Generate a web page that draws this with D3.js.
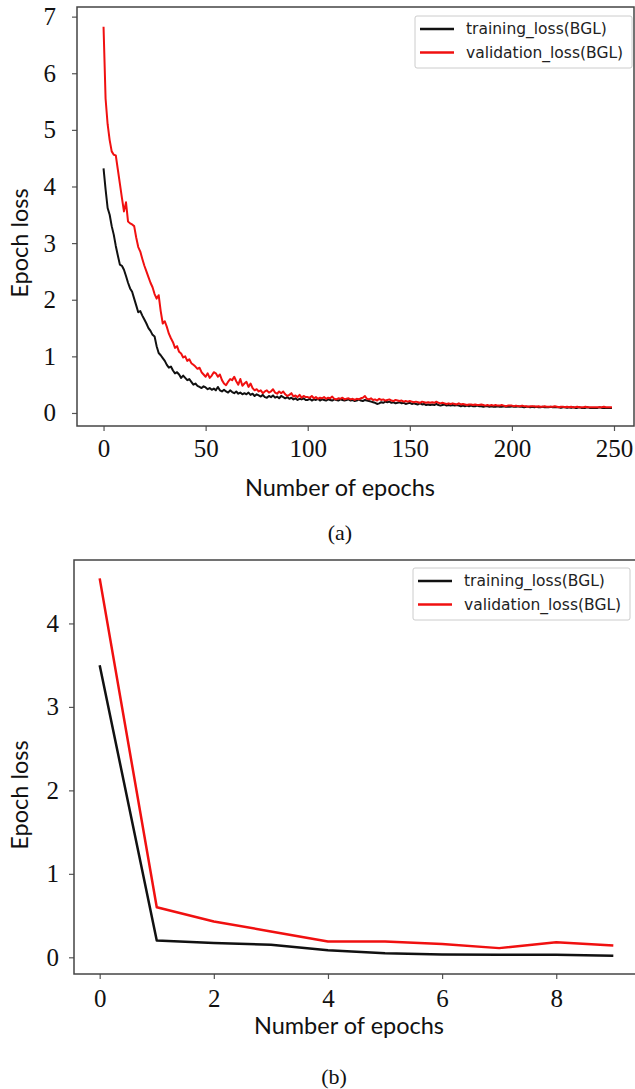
<!DOCTYPE html>
<html>
<head>
<meta charset="utf-8">
<script src="https://cdn.jsdelivr.net/npm/d3@7"></script>
<style>
  html, body { margin: 0; padding: 0; background: #fff; }
  svg { display: block; }
  .tick text { font-family: "Liberation Serif", "Times New Roman", serif; font-size: 25px; fill: #111; }
  .tick line { stroke: #555; stroke-width: 1.2; }
  .domain { display: none; }
  .frame { fill: none; stroke: #444; stroke-width: 1.5; }
  .label { font-family: Lato, "Open Sans", sans-serif; font-size: 23.5px; fill: #111; }
  .caption { font-family: "Liberation Serif", serif; font-size: 22px; fill: #111; }
  .legend text { font-family: "DejaVu Sans", sans-serif; font-size: 15.5px; fill: #222; }
  .legend rect { fill: #fff; stroke: #ccc; stroke-width: 1; }
  .loss { fill: none; stroke-linejoin: round; }
</style>
</head>
<body>
<svg id="chart" width="635" height="1089"></svg>
<script>
const seriesNames = ['training_loss(BGL)', 'validation_loss(BGL)'];
const seriesColors = ['#111111', '#f01010'];

// (a) 250 epochs
const trainA = [
  4.32, 3.95, 3.62, 3.50, 3.30, 3.15, 2.95, 2.78, 2.62, 2.60,
  2.53, 2.42, 2.30, 2.20, 2.14, 2.02, 1.90, 1.78, 1.80, 1.72,
  1.65, 1.58, 1.50, 1.45, 1.38, 1.35, 1.18, 1.06, 1.02, 0.97,
  0.92, 0.85, 0.80, 0.82, 0.75, 0.70, 0.72, 0.68, 0.62, 0.66,
  0.62, 0.58, 0.60, 0.55, 0.50, 0.52, 0.48, 0.46, 0.44, 0.47,
  0.45, 0.42, 0.44, 0.41, 0.43, 0.40, 0.46, 0.40, 0.38, 0.41,
  0.38, 0.36, 0.40, 0.37, 0.35, 0.38, 0.34, 0.36, 0.33, 0.35,
  0.33, 0.36, 0.32, 0.34, 0.30, 0.33, 0.31, 0.29, 0.32, 0.28,
  0.27, 0.30, 0.28, 0.31, 0.27, 0.29, 0.26, 0.30, 0.28, 0.26,
  0.28, 0.25, 0.27, 0.24, 0.26, 0.23, 0.25, 0.24, 0.26, 0.23,
  0.23, 0.25, 0.22, 0.24, 0.23, 0.25, 0.22, 0.24, 0.23, 0.22,
  0.24, 0.23, 0.22, 0.24, 0.23, 0.22, 0.24, 0.23, 0.22, 0.23,
  0.24, 0.22, 0.23, 0.21, 0.22, 0.24, 0.22, 0.21, 0.23, 0.22,
  0.21, 0.20, 0.19, 0.18, 0.16, 0.17, 0.19, 0.18, 0.20, 0.19,
  0.20, 0.18, 0.19, 0.17, 0.18, 0.19, 0.17, 0.18, 0.16, 0.17,
  0.18, 0.16, 0.17, 0.16, 0.15, 0.17, 0.15, 0.16, 0.14, 0.15,
  0.14, 0.15, 0.14, 0.16, 0.14, 0.13, 0.14, 0.15, 0.13, 0.14,
  0.13, 0.14, 0.13, 0.14, 0.13, 0.12, 0.13, 0.12, 0.13, 0.12,
  0.13, 0.12, 0.12, 0.13, 0.12, 0.12, 0.11, 0.12, 0.12, 0.11,
  0.12, 0.11, 0.11, 0.12, 0.11, 0.11, 0.12, 0.11, 0.11, 0.11,
  0.12, 0.11, 0.11, 0.12, 0.11, 0.11, 0.10, 0.11, 0.11, 0.10,
  0.11, 0.10, 0.11, 0.10, 0.10, 0.11, 0.10, 0.10, 0.10, 0.11,
  0.10, 0.10, 0.10, 0.10, 0.09, 0.10, 0.10, 0.09, 0.10, 0.09,
  0.10, 0.09, 0.09, 0.10, 0.09, 0.09, 0.09, 0.10, 0.09, 0.09,
  0.09, 0.09, 0.09, 0.10, 0.09, 0.09, 0.09, 0.09, 0.09, 0.09
];
const valA = [
  6.82, 5.55, 5.10, 4.82, 4.62, 4.56, 4.55, 4.30, 4.05, 3.80,
  3.56, 3.72, 3.38, 3.35, 3.33, 3.30, 3.10, 2.93, 2.85, 2.72,
  2.60, 2.50, 2.40, 2.30, 2.22, 2.10, 2.02, 2.08, 1.80, 1.58,
  1.62, 1.52, 1.40, 1.32, 1.25, 1.15, 1.18, 1.08, 1.05, 0.98,
  1.00, 0.92, 0.95, 0.88, 0.85, 0.82, 0.78, 0.80, 0.72, 0.68,
  0.64, 0.70, 0.62, 0.66, 0.72, 0.70, 0.64, 0.68, 0.58, 0.52,
  0.49, 0.55, 0.60, 0.58, 0.64, 0.56, 0.50, 0.60, 0.48, 0.52,
  0.55, 0.46, 0.52, 0.44, 0.40, 0.42, 0.38, 0.40, 0.35, 0.38,
  0.40, 0.36, 0.38, 0.42, 0.36, 0.34, 0.38, 0.35, 0.38, 0.33,
  0.30, 0.32, 0.35, 0.29, 0.31, 0.28, 0.32, 0.27, 0.30, 0.28,
  0.28, 0.27, 0.30, 0.26, 0.28, 0.25, 0.27, 0.26, 0.28, 0.25,
  0.27, 0.26, 0.29, 0.25, 0.24, 0.26, 0.25, 0.27, 0.24, 0.25,
  0.26, 0.24, 0.25, 0.23, 0.25, 0.24, 0.26, 0.27, 0.30, 0.25,
  0.24, 0.26, 0.23, 0.24, 0.22, 0.25, 0.23, 0.24, 0.22, 0.23,
  0.24, 0.22, 0.21, 0.23, 0.22, 0.21, 0.22, 0.20, 0.21, 0.20,
  0.21, 0.20, 0.19, 0.20, 0.19, 0.18, 0.20, 0.19, 0.18, 0.19,
  0.18, 0.19, 0.18, 0.20, 0.18, 0.17, 0.18, 0.17, 0.16, 0.17,
  0.16, 0.17, 0.16, 0.15, 0.17, 0.15, 0.16, 0.15, 0.14, 0.15,
  0.15, 0.14, 0.15, 0.14, 0.14, 0.15, 0.14, 0.13, 0.14, 0.13,
  0.14, 0.13, 0.14, 0.13, 0.13, 0.14, 0.13, 0.12, 0.13, 0.13,
  0.13, 0.12, 0.13, 0.12, 0.12, 0.13, 0.12, 0.12, 0.11, 0.12,
  0.12, 0.12, 0.11, 0.12, 0.11, 0.11, 0.12, 0.11, 0.11, 0.11,
  0.11, 0.12, 0.11, 0.10, 0.11, 0.11, 0.10, 0.11, 0.10, 0.11,
  0.10, 0.10, 0.11, 0.10, 0.10, 0.10, 0.11, 0.10, 0.10, 0.10,
  0.10, 0.10, 0.10, 0.10, 0.10, 0.11, 0.10, 0.10, 0.10, 0.10
];
const xTicksA = [0, 50, 100, 150, 200, 250];
const yTicksA = [0, 1, 2, 3, 4, 5, 6, 7];

// (b) 10 epochs
const trainB = [3.50, 0.20, 0.17, 0.15, 0.085, 0.05, 0.035, 0.03, 0.03, 0.02];
const valB = [4.54, 0.60, 0.43, 0.31, 0.19, 0.19, 0.16, 0.11, 0.18, 0.14];
const xTicksB = [0, 2, 4, 6, 8];
const yTicksB = [0, 1, 2, 3, 4];

const svg = d3.select('#chart');
const fmt = d3.format('d');

let drawPanel = (p) => {
  const x = d3.scaleLinear().domain(p.xDomain).range(p.xRange);
  const y = d3.scaleLinear().domain(p.yDomain).range(p.yRange);
  const g = svg.append('g').attr('class', 'panel');

  g.append('g')
      .attr('transform', `translate(0,${p.yRange[0]})`)
      .call(d3.axisBottom(x).tickValues(p.xTicks).tickFormat(fmt)
        .tickSize(5).tickPadding(p.xPad));

  g.append('g')
      .attr('transform', `translate(${p.xRange[0]},0)`)
      .call(d3.axisLeft(y).tickValues(p.yTicks).tickFormat(fmt)
        .tickSize(5).tickPadding(p.yPad));

  const line = d3.line()
      .x((d, i) => x(i))
      .y(d => y(d));

  g.selectAll('path.loss')
    .data(p.series)
    .join('path')
      .attr('class', 'loss')
      .attr('stroke', (d, i) => seriesColors[i])
      .attr('stroke-width', p.lineWidth)
      .attr('d', line);

  g.append('rect')
      .attr('class', 'frame')
      .attr('x', p.xRange[0])
      .attr('y', p.yRange[1])
      .attr('width', p.xRange[1] - p.xRange[0])
      .attr('height', p.yRange[0] - p.yRange[1]);

  const lg = g.append('g')
      .attr('class', 'legend')
      .attr('transform', `translate(${p.legend[0]},${p.legend[1]})`);
  lg.append('rect')
      .attr('width', 217).attr('height', 52).attr('rx', 2);
  const row = lg.selectAll('g.row')
    .data(seriesNames)
    .join('g')
      .attr('class', 'row')
      .attr('transform', (d, i) => `translate(0,${13 + i * 23.5})`);
  row.append('line')
      .attr('x1', 5).attr('x2', 39)
      .attr('stroke', (d, i) => seriesColors[i])
      .attr('stroke-width', 2.5);
  row.append('text')
      .attr('x', 51).attr('dy', '0.35em')
      .text(d => d);

  g.append('text')
      .attr('class', 'label')
      .attr('text-anchor', 'middle')
      .attr('x', p.xLabel[0]).attr('y', p.xLabel[1])
      .text('Number of epochs');

  g.append('text')
      .attr('class', 'label')
      .attr('text-anchor', 'middle')
      .attr('transform', `translate(${p.yLabel[0]},${p.yLabel[1]}) rotate(-90)`)
      .text('Epoch loss');

  g.append('text')
      .attr('class', 'caption')
      .attr('text-anchor', 'middle')
      .attr('x', p.caption[0]).attr('y', p.caption[1])
      .text(p.captionText);
};

drawPanel({
  series: [trainA, valA],
  xDomain: [-13, 259.8], xRange: [77, 634],
  yDomain: [-0.23, 7.17], yRange: [426, 7],
  xTicks: xTicksA, yTicks: yTicksA,
  xPad: 8, yPad: 16, lineWidth: 2,
  legend: [415, 16],
  xLabel: [340, 496], yLabel: [28, 243],
  caption: [340, 540], captionText: '(a)'
});

drawPanel({
  series: [trainB, valB],
  xDomain: [-0.45, 9.45], xRange: [74, 639],
  yDomain: [-0.2, 4.76], yRange: [974, 560],
  xTicks: xTicksB, yTicks: yTicksB,
  xPad: 10, yPad: 10, lineWidth: 2.5,
  legend: [413, 568],
  xLabel: [349, 1034], yLabel: [28, 795],
  caption: [334, 1084], captionText: '(b)'
});
</script>
</body>
</html>
